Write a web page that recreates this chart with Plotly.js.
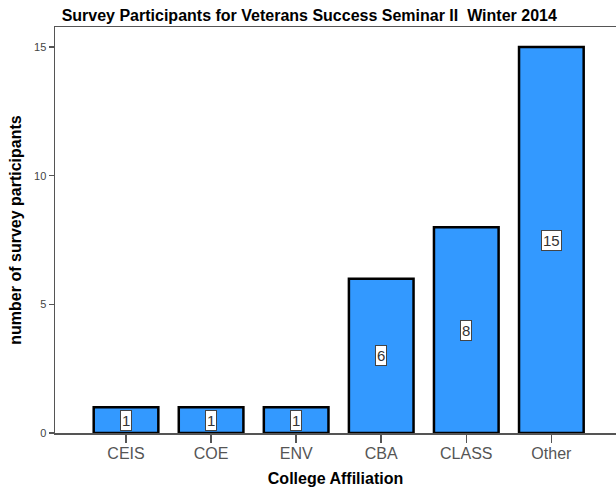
<!DOCTYPE html>
<html>
<head>
<meta charset="utf-8">
<script src="https://cdn.plot.ly/plotly-3.0.1.min.js"></script>
<style>body{margin:0;padding:0;background:#fff}#chart{width:616px;height:491px}</style>
</head>
<body>
<div id="chart"></div>
<script>
const categories = ["CEIS", "COE", "ENV", "CBA", "CLASS", "Other"];
const participants = [1, 1, 1, 6, 8, 15];
const yTickValues = [0, 5, 10, 15];

const trace = {
  type: "bar",
  x: categories,
  y: participants,
  width: 0.76,
  marker: {color: "#3399ff", line: {color: "#000000", width: 2.5}},
  hoverinfo: "none"
};

const annotations = categories.map((c, i) => ({
  x: c, y: participants[i] / 2, xref: "x", yref: "y",
  text: String(participants[i]), showarrow: false,
  font: {family: "Liberation Sans, Arial, sans-serif", size: 15, color: "#333"},
  bgcolor: "#ffffff", bordercolor: "#444", borderwidth: 1, borderpad: 1
}));

const layout = {
  width: 616, height: 491,
  margin: {l: 55, r: 0, t: 27, b: 58},
  paper_bgcolor: "#fff", plot_bgcolor: "#fff",
  showlegend: false,
  bargap: 0.1,
  title: {
    text: "<b>Survey Participants for Veterans Success Seminar II  Winter 2014</b>",
    font: {family: "Liberation Sans, Arial, sans-serif", size: 16, color: "#000"},
    x: 0.502, xanchor: "center", xref: "container", y: 0.968, yanchor: "middle", yref: "container"
  },
  xaxis: {
    type: "category", range: [-0.835, 5.76],
    showline: true, linecolor: "#555", linewidth: 1.5, mirror: true,
    ticks: "outside", ticklen: 8, tickcolor: "#555", tickwidth: 1.5,
    ticklabelstandoff: -3,
    tickfont: {family: "Liberation Sans, Arial, sans-serif", size: 16, color: "#555"},
    showgrid: false, zeroline: false,
    title: {text: "<b>College Affiliation</b>", standoff: 12,
      font: {family: "Liberation Sans, Arial, sans-serif", size: 16, color: "#000"}}
  },
  yaxis: {
    range: [0, 15.78], tickvals: yTickValues,
    showline: true, linecolor: "#555", linewidth: 1.5,
    ticks: "outside", ticklen: 5, tickcolor: "#555", tickwidth: 1.5,
    tickfont: {family: "Liberation Sans, Arial, sans-serif", size: 11, color: "#444"},
    showgrid: false, zeroline: false,
    title: {text: "<b>number of survey participants</b>", standoff: 8,
      font: {family: "Liberation Sans, Arial, sans-serif", size: 16, color: "#000"}}
  },
  annotations: annotations
};

Plotly.newPlot("chart", [trace], layout, {displayModeBar: false, staticPlot: true});
</script>
</body>
</html>
